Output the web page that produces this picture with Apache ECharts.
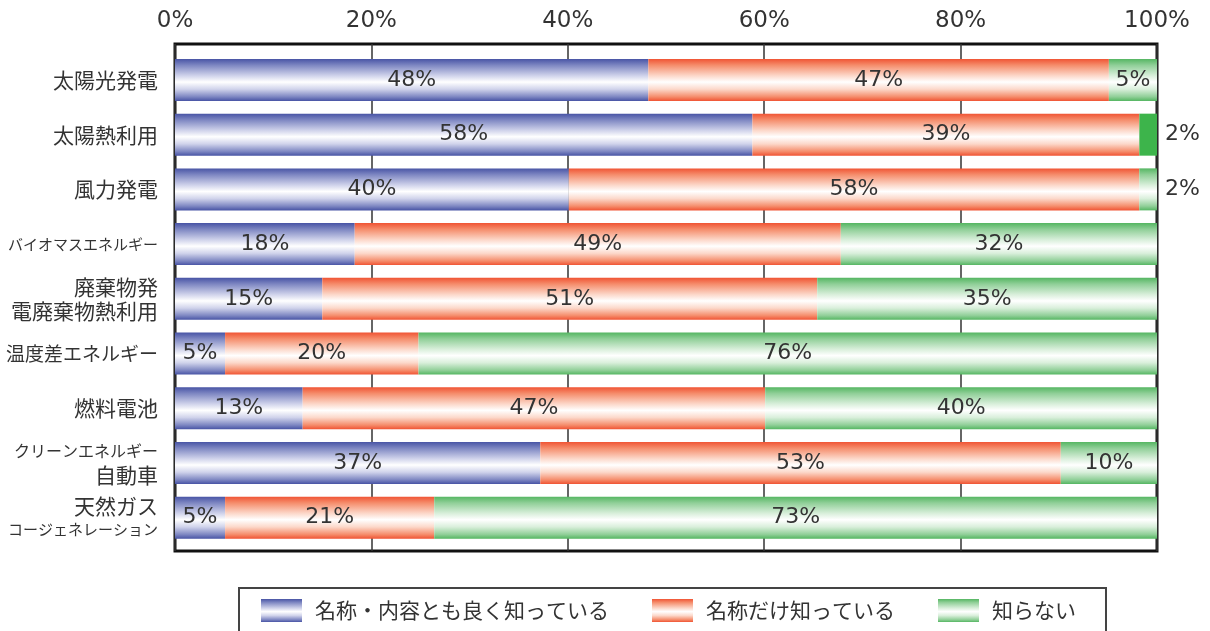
<!DOCTYPE html>
<html>
<head>
<meta charset="utf-8">
<script src="https://cdn.jsdelivr.net/npm/echarts@6/dist/echarts.min.js"></script>
<style>
    html, body { margin: 0; padding: 0; background: #fff; }
    #main { width: 1210px; height: 631px; }
</style>
</head>
<body>
<div id="main"></div>
<script>
// 項目名
const categories = ['太陽光発電', '太陽熱利用', '風力発電', 'バイオマスエネルギー', '廃棄物発\n電廃棄物熱利用',
    '温度差エネルギー', '燃料電池', 'クリーンエネルギー\n自動車', '天然ガス\nコージェネレーション']
const seriesNames = ['名称・内容とも良く知っている', '名称だけ知っている', '知らない']
// 棒の長さ
const knowWell = [48.2, 58.8, 40.1, 18.3, 15.0, 5.1, 13.0, 37.2, 5.1]
const nameOnly = [46.9, 39.4, 58.1, 49.5, 50.4, 19.7, 47.1, 53.0, 21.3]
const unknown = [4.9, 1.8, 1.8, 32.2, 34.6, 75.2, 39.9, 9.8, 73.6]
// 表示されている数値
const knowWellPct = [48, 58, 40, 18, 15, 5, 13, 37, 5]
const nameOnlyPct = [47, 39, 58, 49, 51, 20, 47, 53, 21]
const unknownPct = [5, 2, 2, 32, 35, 76, 40, 10, 73]
const tickLabels = ['0%', '20%', '40%', '60%', '80%', '100%']

const NUM_FONT = 'DejaVu Sans'
const JP_FONT = 'Noto Sans CJK JP'

// 上下が濃く、中央が白いグラデーション
function band(dark, mid, light) {
    return new echarts.graphic.LinearGradient(0, 0, 0, 1, [
        { offset: 0, color: dark },
        { offset: 0.15, color: mid },
        { offset: 0.4, color: light },
        { offset: 0.55, color: '#ffffff' },
        { offset: 0.72, color: light },
        { offset: 0.9, color: mid },
        { offset: 1, color: dark }
    ])
}
const COLOR = [
    band('#4854a5', '#7e87c2', '#d0d3eb'),
    band('#f05434', '#f58d6c', '#fcd8ca'),
    band('#55b662', '#90cf98', '#d9efdb')
]
const SOLID_GREEN = '#3db44b'

// 項目ラベルの文字サイズ (長い行は小さく)
const rich = {}
for (let s = 13; s <= 21; s++) {
    rich['s' + s] = { fontSize: s, fontFamily: JP_FONT, color: '#333', lineHeight: 24, align: 'right' }
}
function catLabel(text) {
    return text.split('\n').map(line => {
        const size = Math.min(21, Math.floor(152 / line.length))
        return `{s${size}|${line}}`
    }).join('\n')
}

function makeData(values, idx) {
    return values.map((v, i) => {
        const item = { value: v }
        // 細い区間はラベルを外側に
        if (v < 3) {
            item.label = { position: 'right', distance: 8 }
        }
        // 太陽熱利用の「知らない」はベタ塗り
        if (idx === 2 && i === 1) {
            item.itemStyle = { color: SOLID_GREEN }
        }
        return item
    })
}

const valueSets = [knowWell, nameOnly, unknown]
const pctSets = [knowWellPct, nameOnlyPct, unknownPct]

const series = valueSets.map((values, idx) => ({
    name: seriesNames[idx],
    type: 'bar',
    stack: 'total',
    xAxisIndex: 1,
    yAxisIndex: 1,
    barWidth: 42,
    itemStyle: { color: COLOR[idx] },
    label: {
        show: true,
        position: 'inside',
        color: '#333',
        fontFamily: NUM_FONT,
        fontSize: 22,
        formatter: p => pctSets[idx][p.dataIndex] + '%'
    },
    data: makeData(values, idx)
}))

const option = {
    animation: false,
    backgroundColor: '#fff',
    grid: [
        // 枠と目盛り
        { left: 175, top: 44, width: 982, height: 507, show: true, borderColor: '#111', borderWidth: 3, backgroundColor: 'transparent' },
        // 棒
        { left: 175, top: 52.6, width: 982, height: 492.4 }
    ],
    xAxis: [
        {
            gridIndex: 0, type: 'value', position: 'top', min: 0, max: 100, interval: 20,
            axisLine: { show: false }, axisTick: { show: false },
            splitLine: { lineStyle: { color: '#333', width: 1.5 } },
            axisLabel: {
                margin: 11, color: '#333', fontFamily: NUM_FONT, fontSize: 23,
                formatter: (v) => tickLabels[v / 20]
            }
        },
        { gridIndex: 1, type: 'value', min: 0, max: 100, show: false }
    ],
    yAxis: [
        { gridIndex: 0, type: 'value', show: false, min: 0, max: 1 },
        {
            gridIndex: 1, type: 'category', inverse: true, data: categories,
            axisLine: { show: false }, axisTick: { show: false },
            axisLabel: { margin: 17, formatter: catLabel, rich: rich }
        }
    ],
    legend: {
        left: 239,
        top: 588,
        padding: [11, 30, 20, 22],
        borderColor: '#444',
        borderWidth: 2,
        itemWidth: 41,
        itemHeight: 23,
        itemGap: 43,
        icon: 'rect',
        textStyle: { fontFamily: JP_FONT, fontSize: 21, color: '#333', padding: [0, 0, 0, 8] },
        data: seriesNames
    },
    series: series
}

const myChart = echarts.init(document.getElementById('main'))
myChart.setOption(option)
</script>
</body>
</html>
